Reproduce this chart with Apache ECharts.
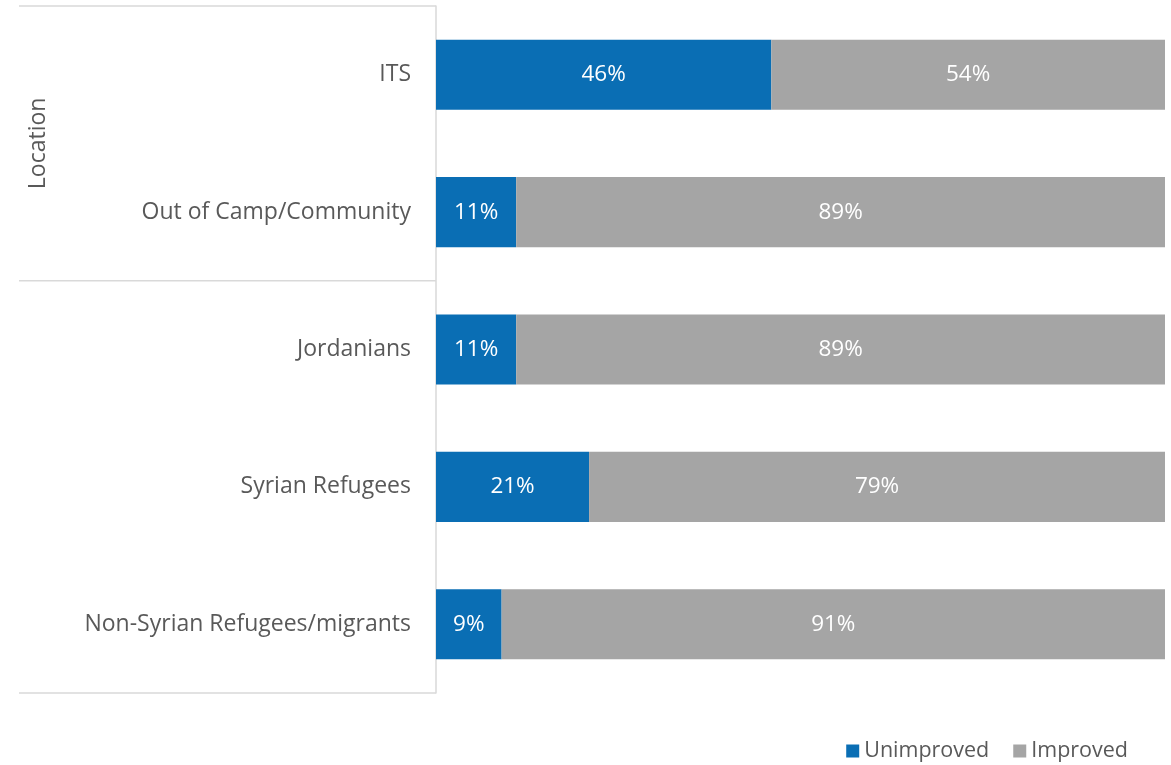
<!DOCTYPE html>
<html>
<head>
<meta charset="utf-8">
<script src="https://cdn.jsdelivr.net/npm/echarts@6/dist/echarts.min.js"></script>
<style>
  html, body { margin: 0; padding: 0; background: #fff; }
  #myChart { width: 1171px; height: 765px; }
</style>
</head>
<body>
<div id="myChart"></div>
<script>
// 分类（从上到下）
const categories = ['ITS', 'Out of Camp/Community', 'Jordanians', 'Syrian Refugees', 'Non-Syrian Refugees/migrants'];
const unimproved = [46, 11, 11, 21, 9];
const improved = [54, 89, 89, 79, 91];
const seriesNames = ['Unimproved', 'Improved'];
// 分组：Location 包含前两个分类
const groupName = 'Location';
const groupEnd = 2;

const font = '"Open Sans", "Noto Sans", sans-serif';
const lineColor = '#d9d9d9';
const textColor = '#595959';

const myChart = echarts.init(document.getElementById('myChart'));

function barSeries (name, data, color) {
  return {
    name: name,
    type: 'bar',
    stack: 'total',
    data: data,
    barCategoryGap: '49%',
    itemStyle: { color: color },
    label: {
      show: true,
      position: 'inside',
      formatter: '{c}%',
      color: '#fff',
      fontSize: 22.5,
      fontFamily: font
    }
  };
}

const option = {
  animation: false,
  grid: { left: 436, right: 6, top: 6, bottom: 72 },
  legend: {
    right: 38,
    bottom: -2,
    itemWidth: 13,
    itemHeight: 13,
    itemGap: 24,
    icon: 'rect',
    textStyle: { fontSize: 21.5, color: textColor, fontFamily: font }
  },
  xAxis: {
    type: 'value',
    min: 0,
    max: 100,
    show: false
  },
  yAxis: {
    type: 'category',
    inverse: true,
    data: categories,
    axisTick: { show: false },
    axisLine: { show: true, lineStyle: { color: lineColor, width: 1.5 } },
    axisLabel: { fontSize: 23, color: textColor, fontFamily: font, margin: 25 }
  },
  series: [
    barSeries(seriesNames[0], unimproved, '#0a6eb4'),
    barSeries(seriesNames[1], improved, '#a5a5a5')
  ]
};
myChart.setOption(option);

// 分组分隔线和分组标题
const grid = myChart.getModel().getComponent('grid').coordinateSystem.getRect();
const band = grid.height / categories.length;
const yTop = grid.y;
const ySep = grid.y + band * groupEnd;
const yBot = grid.y + grid.height;
const xl = 19;
const xr = grid.x;
function hline (y) {
  return { type: 'line', shape: { x1: xl, y1: y, x2: xr, y2: y }, style: { stroke: lineColor, lineWidth: 1.5 } };
}
myChart.setOption({
  graphic: [
    hline(yTop), hline(ySep), hline(yBot),
    {
      type: 'text',
      x: 38,
      y: (yTop + ySep) / 2,
      rotation: Math.PI / 2,
      style: {
        text: groupName,
        fill: textColor,
        font: '23px ' + font,
        align: 'center',
        verticalAlign: 'middle'
      }
    }
  ]
});
</script>
</body>
</html>
